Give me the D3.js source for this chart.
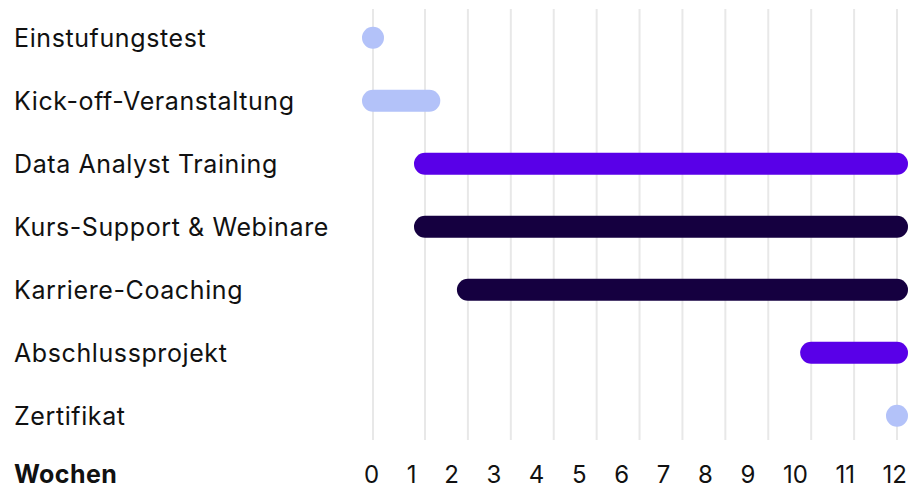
<!DOCTYPE html>
<html>
<head>
<meta charset="utf-8">
<script src="https://cdn.jsdelivr.net/npm/d3@7"></script>
<style>
  body { margin: 0; background: #fff; }
  svg { display: block; font-family: Inter, "Noto Sans", sans-serif; }
</style>
</head>
<body>
<svg id="chart" width="911" height="490"></svg>
<script>
// rows of the plan
var tasks = ["Einstufungstest", "Kick-off-Veranstaltung", "Data Analyst Training",
  "Kurs-Support & Webinare", "Karriere-Coaching", "Abschlussprojekt", "Zertifikat"];
var startWeek = [0, 0, 1, 1, 2, 10, 12];
var endWeek = [0, 1.1, 12, 12, 12, 12, 12];
var kinds = ["light", "light", "purple", "dark", "dark", "purple", "light"];
var weeks = [0, 1, 2, 3, 4, 5, 6, 7, 8, 9, 10, 11, 12];
var axisTitle = "Wochen";

var colors = { light: "#b3c2f9", purple: "#5900e8", dark: "#150040" };

var svg = d3.select("#chart");
var barH = 22;

// week 0 sits a bit further left than the even spacing of weeks 1..12
var x = d3.scaleLinear().domain([0, 1, 12]).range([373, 425, 897]);
var y = d3.scalePoint().domain(tasks).range([37.7, 415.7]);

// grid
svg.append("g").selectAll("line")
  .data(weeks)
  .join("line")
  .attr("x1", function(d) { return x(d); })
  .attr("x2", function(d) { return x(d); })
  .attr("y1", 9)
  .attr("y2", 440)
  .attr("stroke", "#e8e8e8")
  .attr("stroke-width", 2);

// task labels
svg.append("g").selectAll("text")
  .data(tasks)
  .join("text")
  .attr("x", 14)
  .attr("y", function(d) { return y(d); })
  .attr("dy", "0.36em")
  .attr("font-size", 25)
  .attr("letter-spacing", 0.6)
  .attr("fill", "#111")
  .text(function(d) { return d; });

// bars (rounded, a zero-length task becomes a dot)
svg.append("g").selectAll("rect")
  .data(tasks)
  .join("rect")
  .attr("x", function(d, i) { return x(startWeek[i]) - barH / 2; })
  .attr("y", function(d) { return y(d) - barH / 2; })
  .attr("width", function(d, i) { return x(endWeek[i]) - x(startWeek[i]) + barH; })
  .attr("height", barH)
  .attr("rx", barH / 2)
  .attr("fill", function(d, i) { return colors[kinds[i]]; });

// axis title
svg.append("text")
  .attr("x", 14)
  .attr("y", 483)
  .attr("font-size", 25)
  .attr("letter-spacing", 0.4)
  .attr("font-weight", 700)
  .attr("fill", "#111")
  .text(axisTitle);

// week labels spread like a flex row (space-between) from 364 to 907
var tickTexts = svg.append("g").selectAll("text")
  .data(weeks)
  .join("text")
  .attr("y", 483)
  .attr("font-size", 24)
  .attr("fill", "#111")
  .text(function(d) { return d; });

var widths = [];
tickTexts.each(function() { widths.push(this.getComputedTextLength()); });
var left = 364, right = 907;
var gap = (right - left - d3.sum(widths)) / (weeks.length - 1);
var pos = left;
tickTexts.attr("x", function(d, i) {
  var p = pos;
  pos += widths[i] + gap;
  return p;
});
</script>
</body>
</html>
